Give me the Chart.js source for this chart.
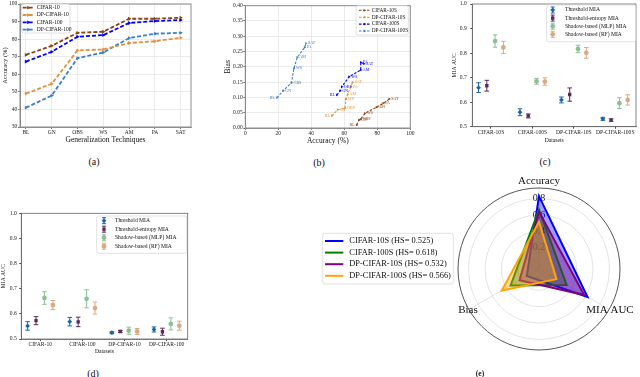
<!DOCTYPE html>
<html>
<head>
<meta charset="utf-8">
<script src="https://cdn.jsdelivr.net/npm/chart.js@4.4.1/dist/chart.umd.min.js"></script>
<style>
  html, body { margin: 0; padding: 0; background: #fff; }
  body { position: relative; width: 640px; height: 377px; overflow: hidden; }
  canvas { position: absolute; }
  .cap { position: absolute; transform: translate(-50%, -50%); font-family: "Liberation Serif", serif; color: #111; white-space: nowrap; }
</style>
</head>
<body>
<canvas id="chartA" width="200" height="150" style="left:0;top:0"></canvas>
<canvas id="chartB" width="200" height="150" style="left:215px;top:0"></canvas>
<canvas id="chartC" width="215" height="150" style="left:425px;top:0"></canvas>
<canvas id="chartD" width="200" height="165" style="left:0;top:190px"></canvas>
<canvas id="chartE" width="318" height="207" style="left:322px;top:170px"></canvas>
<div class="cap" style="left:94px;top:161px;font-size:10px">(a)</div>
<div class="cap" style="left:319px;top:162px;font-size:10px">(b)</div>
<div class="cap" style="left:545px;top:161px;font-size:10px">(c)</div>
<div class="cap" style="left:93px;top:373px;font-size:10px">(d)</div>
<div class="cap" style="left:480px;top:373px;font-size:7.5px;font-weight:bold">(e)</div>
<script>
// ---- data ----
var techniques = ['BL', 'GN', 'OBS', 'WS', 'AM', 'PA', 'SAT'];

// (a) accuracy per generalization technique
var accNames = ['CIFAR-10', 'DP-CIFAR-10', 'CIFAR-100', 'DP-CIFAR-100'];
var accCifar10 = [71.1, 76.2, 83.6, 84.2, 91.6, 91.6, 92.2];
var accDpCifar10 = [49.0, 54.6, 73.6, 74.1, 77.8, 78.8, 80.8];
var accCifar100 = [67.2, 72.8, 81.4, 82.3, 89.2, 90.3, 90.9];
var accDpCifar100 = [41.0, 47.9, 69.2, 72.4, 80.6, 83.1, 83.6];
var accTicks = [30, 40, 50, 60, 70, 80, 90, 100];

// (b) accuracy vs bias, one point per technique
var biasNames = ['CIFAR-10S', 'DP-CIFAR-10S', 'CIFAR-100S', 'DP-CIFAR-100S'];
var cifar10sAcc = [67.5, 68.9, 69.9, 72.5, 79.5, 83.6, 87.3];
var cifar10sBias = [0.010, 0.026, 0.029, 0.048, 0.068, 0.081, 0.095];
var dpCifar10sAcc = [52.5, 56.0, 60.5, 61.0, 62.0, 64.0, 65.0];
var dpCifar10sBias = [0.040, 0.060, 0.065, 0.094, 0.110, 0.135, 0.150];
var cifar100sAcc = [55.5, 57.5, 58.5, 63.0, 70.0, 70.0, 72.0];
var cifar100sBias = [0.108, 0.122, 0.135, 0.168, 0.190, 0.215, 0.210];
var dpCifar100sAcc = [19.2, 23.0, 28.0, 29.5, 31.5, 36.0, 36.8];
var dpCifar100sBias = [0.099, 0.122, 0.148, 0.195, 0.231, 0.264, 0.277];
var biasTicksX = [0, 20, 40, 60, 80, 100];
var biasTicksY = [0, 0.05, 0.10, 0.15, 0.20, 0.25, 0.30, 0.35, 0.40];

// (c) MIA AUC on the S datasets (mean and error)
var miaNames = ['Threshold MIA', 'Threshold-entropy MIA', 'Shadow-based (MLP) MIA', 'Shadow-based (RF) MIA'];
var datasetsS = ['CIFAR-10S', 'CIFAR-100S', 'DP-CIFAR-10S', 'DP-CIFAR-100S'];
var thresholdS = [0.659, 0.559, 0.609, 0.532];
var thresholdSErr = [0.020, 0.014, 0.012, 0.006];
var entropyS = [0.667, 0.544, 0.631, 0.527];
var entropySErr = [0.022, 0.008, 0.027, 0.005];
var mlpS = [0.849, 0.685, 0.817, 0.596];
var mlpSErr = [0.025, 0.012, 0.015, 0.022];
var rfS = [0.823, 0.684, 0.801, 0.609];
var rfSErr = [0.025, 0.015, 0.022, 0.021];

// (d) MIA AUC on the original datasets
var datasetsO = ['CIFAR-10', 'CIFAR-100', 'DP-CIFAR-10', 'DP-CIFAR-100'];
var thresholdO = [0.552, 0.569, 0.525, 0.538];
var thresholdOErr = [0.017, 0.017, 0.004, 0.010];
var entropyO = [0.573, 0.568, 0.530, 0.529];
var entropyOErr = [0.016, 0.019, 0.004, 0.014];
var mlpO = [0.663, 0.660, 0.533, 0.560];
var mlpOErr = [0.025, 0.036, 0.014, 0.024];
var rfO = [0.635, 0.623, 0.530, 0.553];
var rfOErr = [0.018, 0.024, 0.012, 0.018];
var miaTicks = [0.5, 0.6, 0.7, 0.8, 0.9, 1.0];

// (e) radar
var radarAxes = ['Accuracy', 'MIA AUC', 'Bias'];
var radarNames = ['CIFAR-10S (HS= 0.525)', 'CIFAR-100S (HS= 0.618)', 'DP-CIFAR-10S (HS= 0.532)', 'DP-CIFAR-100S (HS= 0.566)'];
var radarCifar10s = [0.830, 0.625, 0.112];
var radarCifar100s = [0.667, 0.330, 0.341];
var radarDpCifar10s = [0.641, 0.577, 0.214];
var radarDpCifar100s = [0.517, 0.187, 0.465];
var radarTicks = [0.2, 0.4, 0.6, 0.8];

// ---- setup ----
var SERIF = '"Liberation Serif", "DejaVu Serif", serif';
Chart.defaults.font.family = SERIF;
Chart.defaults.color = '#222';
Chart.defaults.animation = false;
Chart.defaults.responsive = false;
Chart.defaults.events = [];
Chart.defaults.plugins.legend.display = false;
Chart.defaults.plugins.tooltip.enabled = false;

var linePalette = ['#8b4513', '#e0913f', '#0000ff', '#3a80c4'];
var miaColors = ['#1b65a6', '#5b2a5c', '#8dbf97', '#dba981'];
var miaMarkers = ['rectRot', 'rect', 'circle', 'circle'];
var radarColors = ['#0000ff', '#008000', '#800080', '#ffa500'];
var dodge = [-0.3, -0.1, 0.1, 0.3];

// force the axis box size so the plot area lands where the figure has it
function axisBox(size, vertical) {
  return function(scale) {
    if (vertical) { scale.width = size; scale.paddingTop = 0; scale.paddingBottom = 0; }
    else { scale.height = size; scale.paddingLeft = 0; scale.paddingRight = 0; }
  };
}
function fixedTicks(values) {
  return function(scale) { scale.ticks = values.map(function(v) { return { value: v }; }); };
}

// ---- plugins ----
var frame = {
  id: 'frame',
  afterDatasetsDraw: function(chart, args, o) {
    var a = chart.chartArea, ctx = chart.ctx;
    ctx.save();
    ctx.strokeStyle = o.color;
    ctx.lineWidth = o.width;
    ctx.strokeRect(a.left, a.top, a.right - a.left, a.bottom - a.top);
    ctx.restore();
  }
};

var errorBars = {
  id: 'errorBars',
  beforeDatasetsDraw: function(chart, args, o) {
    var ctx = chart.ctx, ys = chart.scales.y;
    ctx.save();
    ctx.lineWidth = o.width;
    chart.data.datasets.forEach(function(ds, i) {
      var meta = chart.getDatasetMeta(i);
      ctx.strokeStyle = ds.borderColor;
      meta.data.forEach(function(pt, j) {
        var v = ds.data[j].y, e = ds.errors[j];
        var lo = ys.getPixelForValue(v - e), hi = ys.getPixelForValue(v + e);
        ctx.beginPath();
        ctx.moveTo(pt.x, lo); ctx.lineTo(pt.x, hi);
        ctx.moveTo(pt.x - o.cap, lo); ctx.lineTo(pt.x + o.cap, lo);
        ctx.moveTo(pt.x - o.cap, hi); ctx.lineTo(pt.x + o.cap, hi);
        ctx.stroke();
      });
    });
    ctx.restore();
  }
};

var pointTags = {
  id: 'pointTags',
  afterDatasetsDraw: function(chart, args, o) {
    var ctx = chart.ctx;
    ctx.save();
    ctx.font = o.size + 'px ' + SERIF;
    ctx.textBaseline = 'middle';
    chart.data.datasets.forEach(function(ds, i) {
      ctx.fillStyle = ds.borderColor;
      chart.getDatasetMeta(i).data.forEach(function(pt, j) {
        ctx.textAlign = j === 0 ? 'right' : 'left';
        ctx.fillText(techniques[j], pt.x + (j === 0 ? -o.gap : o.gap), pt.y);
      });
    });
    ctx.restore();
  }
};

var boxLegend = {
  id: 'boxLegend',
  afterDraw: function(chart, args, o) {
    var ctx = chart.ctx;
    ctx.save();
    ctx.beginPath();
    ctx.roundRect(o.x, o.y, o.w, o.h, 2);
    ctx.fillStyle = 'rgba(255,255,255,0.85)';
    ctx.fill();
    ctx.strokeStyle = '#d4d4d4';
    ctx.lineWidth = 0.7;
    ctx.stroke();
    ctx.font = o.size + 'px ' + SERIF;
    ctx.textBaseline = 'middle';
    ctx.textAlign = 'left';
    chart.data.datasets.forEach(function(ds, i) {
      var y = o.y + o.first + i * o.row;
      ctx.strokeStyle = ds.borderColor;
      ctx.fillStyle = ds.borderColor;
      if (o.kind === 'err') {
        var x = o.x + o.mx;
        ctx.lineWidth = 1;
        ctx.beginPath();
        ctx.moveTo(x, y - o.bar); ctx.lineTo(x, y + o.bar);
        ctx.moveTo(x - o.cap, y - o.bar); ctx.lineTo(x + o.cap, y - o.bar);
        ctx.moveTo(x - o.cap, y + o.bar); ctx.lineTo(x + o.cap, y + o.bar);
        ctx.stroke();
        Chart.helpers.drawPoint(ctx, { pointStyle: ds.pointStyle, radius: ds.pointRadius, rotation: 0, borderWidth: 0 }, x, y);
      } else {
        ctx.lineWidth = ds.borderWidth;
        ctx.setLineDash(ds.borderDash || []);
        ctx.beginPath();
        ctx.moveTo(o.x + o.s0, y); ctx.lineTo(o.x + o.s1, y);
        ctx.stroke();
        ctx.setLineDash([]);
        if (o.kind === 'line') {
          Chart.helpers.drawPoint(ctx, { pointStyle: ds.pointStyle, radius: ds.pointRadius, rotation: ds.pointRotation, borderWidth: 0 }, o.x + (o.s0 + o.s1) / 2, y);
        }
      }
      ctx.fillStyle = '#111';
      ctx.fillText(ds.label, o.x + o.tx, y);
    });
    ctx.restore();
  }
};

var radarDecor = {
  id: 'radarDecor',
  afterDraw: function(chart, args, o) {
    var s = chart.scales.r, ctx = chart.ctx;
    ctx.save();
    ctx.strokeStyle = o.rim;
    ctx.lineWidth = 1;
    ctx.beginPath();
    ctx.arc(s.xCenter, s.yCenter, s.drawingArea, 0, Math.PI * 2);
    ctx.stroke();
    ctx.font = o.size + 'px ' + SERIF;
    ctx.fillStyle = '#111';
    ctx.textAlign = 'center';
    chart.data.labels.forEach(function(label, i) {
      var p = s.getPointPosition(i, s.drawingArea + o.pad);
      ctx.textBaseline = Math.cos(s.getIndexAngle(i)) > 0.5 ? 'bottom' : 'middle';
      ctx.fillText(label, p.x, p.y);
    });
    ctx.restore();
  }
};

// ---- (a) ----
var accSeries = [accCifar10, accDpCifar10, accCifar100, accDpCifar100];
new Chart(document.getElementById('chartA'), {
  type: 'line',
  data: {
    datasets: accNames.map(function(name, i) {
      return {
        label: name,
        data: accSeries[i].map(function(v, j) { return { x: j, y: v }; }),
        borderColor: linePalette[i],
        backgroundColor: linePalette[i],
        borderWidth: 1.8,
        borderDash: [4, 2],
        pointStyle: 'triangle',
        pointRotation: 90,
        pointRadius: 2.2,
        pointBorderWidth: 0,
        tension: 0
      };
    })
  },
  plugins: [frame, boxLegend],
  options: {
    layout: { padding: { left: 0, top: 2, right: 9, bottom: 0 } },
    plugins: {
      frame: { color: '#8c8c8c', width: 1 },
      boxLegend: { kind: 'line', x: 21.7, y: 4, w: 48.3, h: 29, first: 3.7, row: 7.3, s0: 1, s1: 12, tx: 15, size: 5.5 }
    },
    scales: {
      x: {
        type: 'linear', min: -0.23, max: 6.4,
        afterBuildTicks: fixedTicks(techniques.map(function(t, i) { return i; })),
        afterFit: axisBox(23, false),
        ticks: { font: { size: 5.5 }, padding: 0, autoSkip: false, maxRotation: 0, callback: function(v) { return techniques[v]; } },
        grid: { color: '#e6e6e6', lineWidth: 0.8, tickLength: 2, tickColor: '#555' },
        border: { color: '#8c8c8c', width: 1 },
        title: { display: true, text: 'Generalization Techniques', font: { size: 7.5 }, color: '#111', padding: { top: 0, bottom: 5.5 } }
      },
      y: {
        min: 30, max: 100,
        afterBuildTicks: fixedTicks(accTicks),
        afterFit: axisBox(20, true),
        ticks: { font: { size: 5.5 }, padding: 0.7 },
        grid: { color: '#e6e6e6', lineWidth: 0.8, tickLength: 2, tickColor: '#555' },
        border: { color: '#8c8c8c', width: 1 },
        title: { display: true, text: 'Accuracy (%)', font: { size: 6.5 }, color: '#111', padding: { top: 1, bottom: 0 } }
      }
    }
  }
});

// ---- (b) ----
var biasAccSeries = [cifar10sAcc, dpCifar10sAcc, cifar100sAcc, dpCifar100sAcc];
var biasSeries = [cifar10sBias, dpCifar10sBias, cifar100sBias, dpCifar100sBias];
new Chart(document.getElementById('chartB'), {
  type: 'scatter',
  data: {
    datasets: biasNames.map(function(name, i) {
      return {
        label: name,
        data: biasAccSeries[i].map(function(a, j) { return { x: a, y: biasSeries[i][j] }; }),
        showLine: true,
        borderColor: linePalette[i],
        backgroundColor: linePalette[i],
        borderWidth: 1.1,
        borderDash: [2.5, 1.5],
        pointStyle: 'triangle',
        pointRotation: 90,
        pointRadius: 1.6,
        pointBorderWidth: 0
      };
    })
  },
  plugins: [frame, pointTags, boxLegend],
  options: {
    layout: { padding: { left: 0, top: 5.7, right: 4.7, bottom: 0 } },
    plugins: {
      frame: { color: '#8c8c8c', width: 1 },
      pointTags: { size: 4, gap: 2 },
      boxLegend: { kind: 'line', x: 141, y: 5.7, w: 52.3, h: 29.3, first: 4.6, row: 6.9, s0: 3, s1: 14, tx: 15.7, size: 5.3 }
    },
    scales: {
      x: {
        min: 0, max: 100,
        afterBuildTicks: fixedTicks(biasTicksX),
        afterFit: axisBox(22, false),
        ticks: { font: { size: 5.5 }, padding: 0 },
        grid: { color: '#e6e6e6', lineWidth: 0.8, tickLength: 2, tickColor: '#555' },
        border: { color: '#8c8c8c', width: 1 },
        title: { display: true, text: 'Accuracy (%)', font: { size: 7.5 }, color: '#111', padding: { top: 0, bottom: 4.8 } }
      },
      y: {
        min: 0, max: 0.4,
        afterBuildTicks: fixedTicks(biasTicksY),
        afterFit: axisBox(30.3, true),
        ticks: { font: { size: 5.5 }, padding: 0.6, callback: function(v) { return v.toFixed(2); } },
        grid: { color: '#e6e6e6', lineWidth: 0.8, tickLength: 2, tickColor: '#555' },
        border: { color: '#8c8c8c', width: 1 },
        title: { display: true, text: 'Bias', font: { size: 7.5 }, color: '#111', padding: { top: 8.8, bottom: 0 } }
      }
    }
  }
});

// ---- (c) and (d) ----
function miaChart(id, categories, means, errs, g) {
  return new Chart(document.getElementById(id), {
    type: 'scatter',
    data: {
      datasets: miaNames.map(function(name, k) {
        return {
          label: name,
          data: means[k].map(function(v, j) { return { x: j + dodge[k], y: v }; }),
          errors: errs[k],
          borderColor: miaColors[k],
          backgroundColor: miaColors[k],
          pointStyle: miaMarkers[k],
          pointRadius: 2.4,
          pointBorderWidth: 0
        };
      })
    },
    plugins: [frame, errorBars, boxLegend],
    options: {
      layout: { padding: g.pad },
      plugins: {
        frame: { color: '#666', width: 0.8 },
        errorBars: { width: 1, cap: 2.3 },
        boxLegend: g.legend
      },
      scales: {
        x: {
          type: 'linear', min: -0.45, max: 3.5,
          afterBuildTicks: fixedTicks(categories.map(function(c, i) { return i; })),
          afterFit: axisBox(g.xh, false),
          ticks: { font: { size: 5.6 }, padding: g.xpad, autoSkip: false, maxRotation: 0, callback: function(v) { return categories[v]; } },
          grid: { drawOnChartArea: false, tickLength: 2, tickColor: '#444' },
          border: { color: '#666', width: 0.8 },
          title: { display: true, text: 'Datasets', font: { size: 5.6 }, color: '#111', padding: { top: 0, bottom: g.xtp } }
        },
        y: {
          min: 0.5, max: 1.0,
          afterBuildTicks: fixedTicks(miaTicks),
          afterFit: axisBox(g.yw, true),
          ticks: { font: { size: 5.6 }, padding: g.ypad, callback: function(v) { return v.toFixed(1); } },
          grid: { drawOnChartArea: false, tickLength: 2, tickColor: '#444' },
          border: { color: '#666', width: 0.8 },
          title: { display: true, text: 'MIA AUC', font: { size: 5.6 }, color: '#111', padding: { top: g.ytp, bottom: 0 } }
        }
      }
    }
  });
}

miaChart('chartC', datasetsS,
  [thresholdS, entropyS, mlpS, rfS],
  [thresholdSErr, entropySErr, mlpSErr, rfSErr],
  {
    pad: { left: 0, top: 1.7, right: 1.7, bottom: 0 },
    xh: 23.3, xpad: 0.5, xtp: 6.6, yw: 47.3, ypad: 3.6, ytp: 26,
    legend: { kind: 'err', x: 121.7, y: 5, w: 89, h: 36.7, first: 5, row: 8.1, mx: 6, tx: 18.3, bar: 3, cap: 2, size: 5.6 }
  });

miaChart('chartD', datasetsO,
  [thresholdO, entropyO, mlpO, rfO],
  [thresholdOErr, entropyOErr, mlpOErr, rfOErr],
  {
    pad: { left: 0, top: 23.3, right: 12.3, bottom: 0 },
    xh: 16, xpad: 0, xtp: 0, yw: 21.3, ypad: 2.6, ytp: 0,
    legend: { kind: 'err', x: 96.7, y: 26, w: 90, h: 37.3, first: 4.7, row: 8.5, mx: 7.3, tx: 18.3, bar: 3, cap: 2, size: 5.6 }
  });

// ---- (e) ----
var radarSeries = [radarCifar10s, radarCifar100s, radarDpCifar10s, radarDpCifar100s];
new Chart(document.getElementById('chartE'), {
  type: 'radar',
  data: {
    labels: radarAxes,
    datasets: radarNames.map(function(name, i) {
      return {
        label: name,
        data: radarSeries[i],
        borderColor: radarColors[i],
        backgroundColor: Chart.helpers.color(radarColors[i]).alpha(0.38).rgbString(),
        borderWidth: 2,
        pointRadius: 0,
        fill: 'start',
        order: radarNames.length - i
      };
    })
  },
  plugins: [radarDecor, boxLegend],
  options: {
    layout: { padding: { left: 129, top: 11, right: 13, bottom: 20 } },
    plugins: {
      radarDecor: { rim: '#555', size: 11, pad: 1 },
      boxLegend: { kind: 'solid', x: 0.7, y: 63.3, w: 130.6, h: 50.7, first: 7.7, row: 11.6, s0: 2.3, s1: 20.6, tx: 26.6, size: 8.4 }
    },
    scales: {
      r: {
        min: -0.06, max: 0.93,
        afterBuildTicks: fixedTicks(radarTicks),
        ticks: { showLabelBackdrop: false, font: { size: 10 }, color: '#222', callback: function(v) { return v.toFixed(1); } },
        grid: { circular: true, color: '#dcdcdc', lineWidth: 0.8 },
        angleLines: { color: '#dcdcdc', lineWidth: 0.8 },
        pointLabels: { display: false }
      }
    }
  }
});
</script>
</body>
</html>
